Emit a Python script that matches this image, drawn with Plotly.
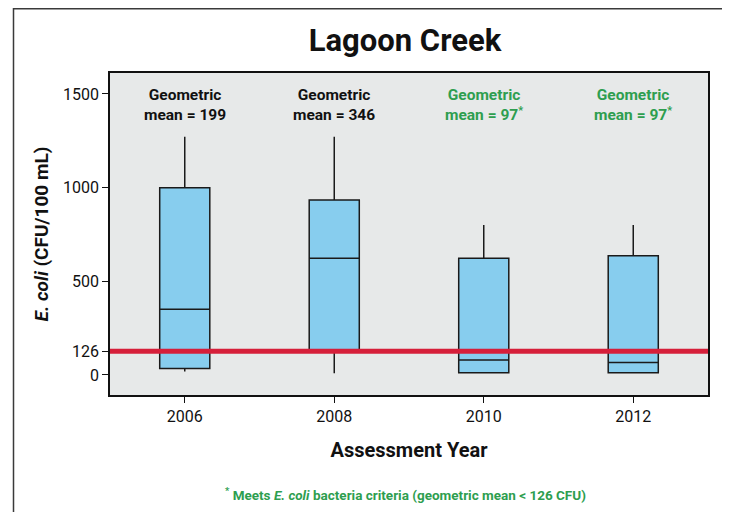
import plotly.graph_objects as go

years = [2006, 2008, 2010, 2012]
lower_whisker = [18, 9, 8, 8]
q1 = [34, 130, 12, 12]
median = [351, 623, 80, 66]
q3 = [1000, 934, 623, 637]
upper_whisker = [1272, 1272, 801, 801]
geo_means = ["199", "346", "97", "97"]
meets_criteria = [False, False, True, True]
criterion = 126
y_ticks = [0, 126, 500, 1000, 1500]
x_ticks = [2006, 2008, 2010, 2012]

FONT = "Roboto, Noto Sans, sans-serif"
GREEN = "#2E9E4F"

# page body has an 8px margin, so the figure is drawn 8px in from the window corner
W, H = 722, 504
L, T, PW, PH = 102, 65, 598, 322
R, B = W - L - PW, H - T - PH

def px(xp):
    return (xp - L) / PW

def py(yp):
    return 1 - (yp - T) / PH

fig = go.Figure()
fig.add_trace(go.Box(
    x=years, q1=q1, median=median, q3=q3,
    lowerfence=lower_whisker, upperfence=upper_whisker,
    width=0.67, whiskerwidth=0, boxpoints=False,
    fillcolor="#87CDEE", line=dict(color="#1a1a1a", width=1.5),
    showlegend=False, hoverinfo="skip",
))

# criterion line
fig.add_shape(type="line", xref="paper", x0=0, x1=1, yref="y", y0=criterion, y1=criterion,
              line=dict(color="#D61F3A", width=5), layer="above")

for yr, gm, ok in zip(years, geo_means, meets_criteria):
    col = GREEN if ok else "#111111"
    txt = "<b>Geometric<br>mean = " + gm + ("<sup>*</sup>" if ok else "") + "</b>"
    fig.add_annotation(x=yr, y=1440, text=txt, showarrow=False, xref="x", yref="y",
                       font=dict(family=FONT, size=15.5, color=col), align="center")

fig.add_annotation(xref="paper", yref="paper", x=px(397), y=py(486), yanchor="middle",
                   text="<b><sup>*</sup> Meets <i>E. coli</i> bacteria criteria (geometric mean &lt; 126 CFU)</b>",
                   showarrow=False, font=dict(family=FONT, size=13.5, color=GREEN))

# outer frame and shadow
fig.add_shape(type="rect", xref="paper", yref="paper",
              x0=px(718), x1=px(726), y0=py(560), y1=py(0),
              line=dict(width=0), fillcolor="#93A7BE", layer="below")
fig.add_shape(type="rect", xref="paper", yref="paper",
              x0=px(5.5), x1=px(717.5), y0=py(560), y1=py(0.75),
              line=dict(color="#3a3a3a", width=1.5), fillcolor="rgba(0,0,0,0)", layer="below")

fig.update_layout(
    width=W, height=H,
    margin=dict(l=L, r=R, t=T, b=B),
    paper_bgcolor="white", plot_bgcolor="#E7E9E9",
    title=dict(text="<b>Lagoon Creek</b>", x=397 / W, xanchor="center", y=1 - 32 / H, yanchor="middle",
               font=dict(family=FONT, size=31, color="#111111")),
    font=dict(family=FONT, color="#111111"),
)
fig.update_xaxes(range=[2005, 2013], tickvals=x_ticks, ticktext=[str(t) for t in x_ticks],
                 ticks="outside", ticklen=6, tickcolor="#111111", tickwidth=1.2,
                 showgrid=False, zeroline=False, showline=True, mirror=True,
                 linecolor="#111111", linewidth=1.5, tickfont=dict(size=16, family=FONT),
                 title=dict(text="<b>Assessment Year</b>", font=dict(size=20, family=FONT), standoff=18))
fig.update_yaxes(range=[-107, 1612], tickvals=y_ticks, ticktext=[str(t) for t in y_ticks],
                 ticks="outside", ticklen=6, tickcolor="#111111", tickwidth=1.2,
                 showgrid=False, zeroline=False, showline=True, mirror=True,
                 linecolor="#111111", linewidth=1.5, tickfont=dict(size=16, family=FONT),
                 title=dict(text="<b><i>E. coli</i> (CFU/100 mL)</b>", font=dict(size=19, family=FONT), standoff=9))

fig.write_html("out.html")
